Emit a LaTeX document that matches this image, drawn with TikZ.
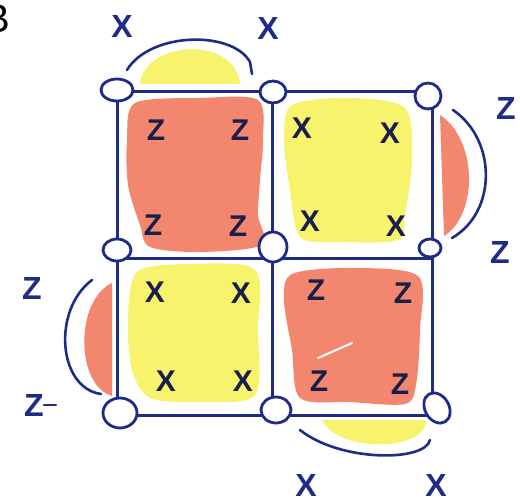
\documentclass[tikz,border=0pt]{standalone}
\usepackage{fontspec}
\setsansfont{Liberation Sans}
\usetikzlibrary{shapes.geometric}
\definecolor{navy}{HTML}{1E2C86}
\definecolor{ink}{HTML}{1A1E4A}
\definecolor{salmon}{HTML}{F3866E}
\definecolor{yel}{HTML}{F7F36C}
\tikzset{
  grid/.style={draw=navy, line width=3pt},
  arcline/.style={draw=navy, line width=2.6pt, line cap=round},
  vtx/.style={draw=navy, fill=white, line width=2.8pt, ellipse, inner sep=0pt},
  inlbl/.style={text=ink, font=\sffamily\bfseries\fontsize{30}{30}\selectfont, inner sep=0pt},
  outlbl/.style={text=navy, font=\sffamily\bfseries\fontsize{32}{32}\selectfont, inner sep=0pt},
}
\begin{document}
\begin{tikzpicture}[x=1pt,y=-1pt]
\useasboundingbox (0,0) rectangle (520,503);
% blobs
\fill[salmon] plot[smooth cycle] coordinates {(135,103) (200,98) (258,100) (263,140) (260,180) (258,215) (262,245) (200,252) (150,247) (140,225) (128,185) (127,140)};
\fill[yel] plot[smooth cycle] coordinates {(292,105) (350,98) (405,108) (412,160) (405,215) (398,240) (340,242) (300,237) (290,190) (284,140)};
\fill[yel] plot[smooth cycle] coordinates {(137,272) (190,264) (255,270) (258,330) (255,395) (200,402) (150,398) (132,370) (128,320)};
\fill[salmon] plot[smooth cycle] coordinates {(292,274) (350,268) (418,276) (420,330) (416,385) (405,404) (350,402) (300,398) (292,350) (284,300)};
\draw[white, line width=2pt, line cap=round] (318,358) -- (352,343);
\fill[yel] (140,84) .. controls (145,40) and (235,35) .. (240,84) -- cycle;
\fill[salmon] (440,115) .. controls (478,140) and (478,215) .. (444,236) -- cycle;
\fill[salmon] (112,283) .. controls (75,300) and (75,385) .. (112,396) -- cycle;
\fill[yel] (322,420) -- (426,420) .. controls (428,450) and (340,455) .. (322,420) -- cycle;
% arcs
\draw[arcline] (127,70) .. controls (150,32) and (232,30) .. (250,62) -- (252,74);
\draw[arcline] (453,110) .. controls (497,140) and (497,212) .. (452,238);
\draw[arcline] (92,280) .. controls (52,310) and (58,388) .. (101,394);
\draw[arcline] (300,430) .. controls (340,462) and (425,462) .. (430,440);
% grid points
\coordinate (g00) at (117,92);  \coordinate (g01) at (272,92);  \coordinate (g02) at (432,92);
\coordinate (g10) at (117,258); \coordinate (g11) at (272,258); \coordinate (g12) at (432,258);
\coordinate (g20) at (117,415); \coordinate (g21) at (272,415); \coordinate (g22) at (432,415);
\draw[grid] (g00) -- (g01) -- (g02) -- (g12) -- (g22) -- (g21) -- (g20) -- (g10) -- cycle;
\draw[grid] (g01) -- (g11) -- (g21);
\draw[grid] (g10) -- (g11) -- (g12);
% vertices
\node[vtx, minimum width=32pt, minimum height=22pt] (v00) at (117,90) {};
\node[vtx, minimum width=26pt, minimum height=22pt] (v01) at (273,92) {};
\node[vtx, minimum width=26pt, minimum height=26pt] (v02) at (428,96) {};
\node[vtx, minimum width=28pt, minimum height=22pt] (v10) at (117,250) {};
\node[vtx, minimum width=28pt, minimum height=30pt] (v11) at (273,247) {};
\node[vtx, minimum width=22pt, minimum height=18pt] (v12) at (430,248) {};
\node[vtx, minimum width=34pt, minimum height=30pt] (v20) at (120,413) {};
\node[vtx, minimum width=30pt, minimum height=26pt] (v21) at (276,410) {};
\node[vtx, minimum width=24pt, minimum height=32pt, rotate=30] (v22) at (437,408) {};
% inner labels
\node[inlbl] (z1) at (156,130) {Z};
\node[inlbl] (z2) at (240,130) {Z};
\node[inlbl] (z3) at (153,225) {Z};
\node[inlbl] (z4) at (238,226) {Z};
\node[inlbl] (x1) at (302,128) {X};
\node[inlbl] (x2) at (390,133) {X};
\node[inlbl] (x3) at (310,221) {X};
\node[inlbl] (x4) at (396,226) {X};
\node[inlbl] (x5) at (155,292) {X};
\node[inlbl] (x6) at (241,293) {X};
\node[inlbl] (x7) at (166,381) {X};
\node[inlbl] (x8) at (243,381) {X};
\node[inlbl] (z5) at (316,290) {Z};
\node[inlbl] (z6) at (403,293) {Z};
\node[inlbl] (z7) at (319,381) {Z};
\node[inlbl] (z8) at (400,384) {Z};
% outer labels
\node[outlbl] (ox1) at (122,26) {X};
\node[outlbl] (ox2) at (268,28) {X};
\node[outlbl] (oz1) at (506,108) {Z};
\node[outlbl] (oz2) at (500,252) {Z};
\node[outlbl] (oz3) at (32,288) {Z};
\node[outlbl] (oz4) at (34,405) {Z};
\draw[navy, line width=2.5pt, line cap=round] (oz4.east) -- ++(12,0);
\node[outlbl] (ox3) at (306,485) {X};
\node[outlbl] (ox4) at (436,485) {X};
\node[text=black, font=\sffamily\fontsize{40}{40}\selectfont, inner sep=0pt, anchor=east] (B) at (10,19) {B};
\end{tikzpicture}
\end{document}
